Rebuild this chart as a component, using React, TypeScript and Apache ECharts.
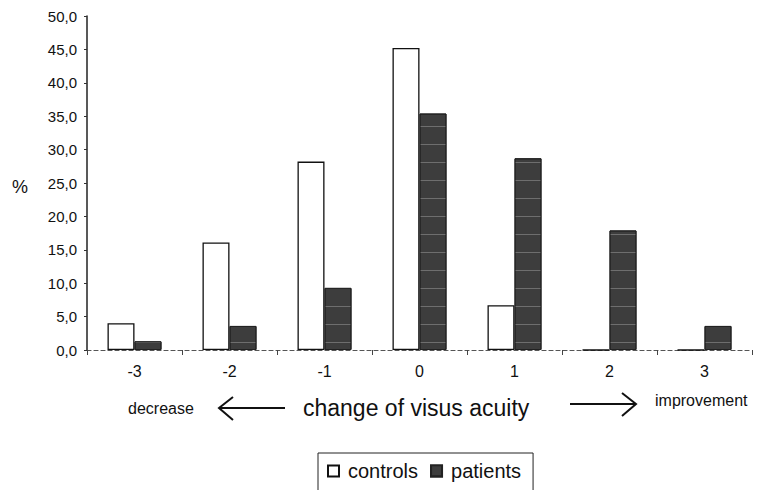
import React, { useEffect, useRef } from "react";
import * as echarts from "echarts";

// Change of visus acuity (steps) and share of each group, in %
const categories = ["-3", "-2", "-1", "0", "1", "2", "3"];
const controls = [4.0, 16.1, 28.2, 45.2, 6.7, 0, 0];
const patients = [1.3, 3.6, 9.3, 35.4, 28.7, 17.9, 3.6];
const yTicks = { min: 0, max: 50, interval: 5 };

const FONT = "'Liberation Sans', Arial, sans-serif";

export default function App() {
  const ref = useRef<HTMLDivElement>(null);

  useEffect(() => {
    if (!ref.current) return;
    const chart = echarts.init(ref.current, null, { renderer: "svg" });

    chart.setOption({
      animation: false,
      backgroundColor: "#ffffff",
      textStyle: { fontFamily: FONT, color: "#111" },
      grid: { left: 87, right: 5, top: 16, bottom: 140, containLabel: false },
      xAxis: {
        type: "category",
        data: categories,
        axisLine: { show: true, lineStyle: { color: "#555", width: 1.2, type: [4, 3] } },
        axisTick: { show: true, alignWithLabel: false, length: 5, lineStyle: { color: "#444" } },
        axisLabel: { fontSize: 16, color: "#111", margin: 13, fontFamily: FONT },
        splitLine: { show: false },
      },
      yAxis: {
        type: "value",
        min: yTicks.min,
        max: yTicks.max,
        interval: yTicks.interval,
        axisLine: { show: true, lineStyle: { color: "#222", width: 1.5 } },
        axisTick: { show: true, length: 3, lineStyle: { color: "#333" } },
        axisLabel: {
          fontSize: 15,
          color: "#111",
          margin: 10,
          fontFamily: FONT,
          formatter: (v: number) => v.toFixed(1).replace(".", ","),
        },
        splitLine: { show: false },
      },
      legend: {
        data: ["controls", "patients"],
        left: 318,
        top: 453,
        orient: "horizontal",
        icon: "rect",
        itemWidth: 11,
        itemHeight: 11,
        itemGap: 12,
        padding: [8, 12, 10, 9],
        borderColor: "#222",
        borderWidth: 1,
        textStyle: { fontSize: 20, color: "#111", fontFamily: FONT, padding: [0, 0, 0, 4] },
      },
      series: [
        {
          name: "controls",
          type: "bar",
          data: controls,
          barWidth: 27,
          barGap: "0%",
          itemStyle: { color: "#ffffff", borderColor: "#111", borderWidth: 1.3 },
        },
        {
          name: "patients",
          type: "bar",
          data: patients,
          barWidth: 27,
          barGap: "0%",
          itemStyle: {
            color: "#3d3d3d",
            borderColor: "#222",
            borderWidth: 1,
            decal: {
              symbol: "rect",
              symbolSize: 1,
              dashArrayX: [[1, 0]],
              dashArrayY: [1, 17],
              rotation: 0,
              color: "rgba(255,255,255,0.25)",
            },
          },
        },
      ],
      graphic: [
        {
          type: "text",
          left: 12,
          top: 178,
          style: { text: "%", fontSize: 18, fill: "#111", fontFamily: FONT },
        },
        {
          type: "text",
          left: 128,
          top: 400,
          style: { text: "decrease", fontSize: 16, fill: "#111", fontFamily: FONT },
        },
        {
          type: "line",
          shape: { x1: 219, y1: 408, x2: 285, y2: 408 },
          style: { stroke: "#111", lineWidth: 2 },
        },
        {
          type: "polyline",
          shape: { points: [[233, 397], [219, 408], [233, 420]] },
          style: { stroke: "#111", lineWidth: 2, fill: null },
        },
        {
          type: "text",
          left: 303,
          top: 396,
          style: { text: "change of visus acuity", fontSize: 23, fill: "#111", fontFamily: FONT },
        },
        {
          type: "line",
          shape: { x1: 570, y1: 404, x2: 636, y2: 404 },
          style: { stroke: "#111", lineWidth: 2 },
        },
        {
          type: "polyline",
          shape: { points: [[622, 393], [636, 404], [622, 416]] },
          style: { stroke: "#111", lineWidth: 2, fill: null },
        },
        {
          type: "text",
          left: 655,
          top: 392,
          style: { text: "improvement", fontSize: 16, fill: "#111", fontFamily: FONT },
        },
      ],
    });

    return () => chart.dispose();
  }, []);

  return <div ref={ref} style={{ width: 757, height: 490, position: "absolute", left: 0, top: 0 }} />;
}
